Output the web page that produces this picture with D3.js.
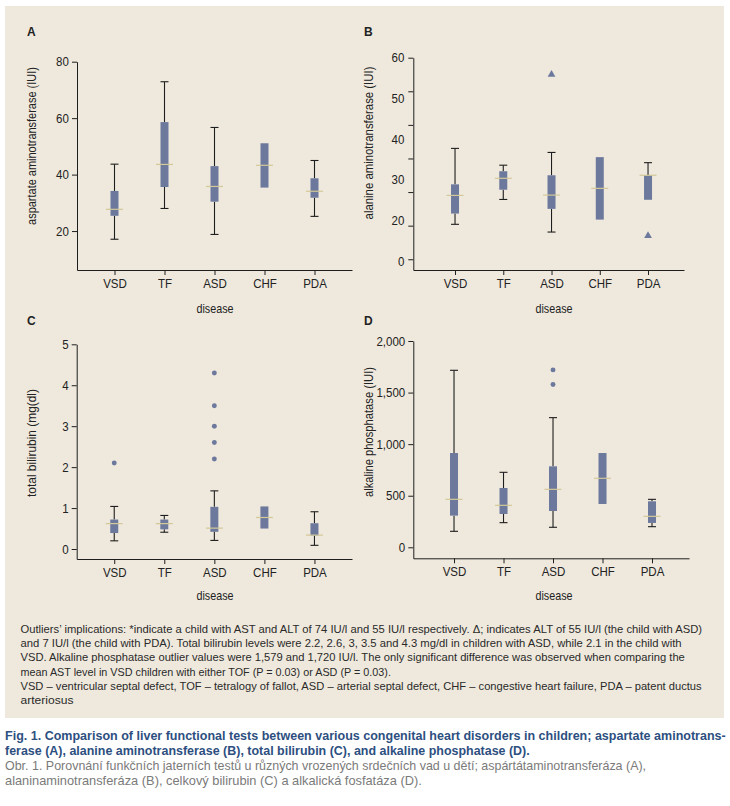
<!DOCTYPE html>
<html>
<head>
<meta charset="utf-8">
<script src="https://cdn.jsdelivr.net/npm/d3@7"></script>
<style>
  html, body { margin: 0; padding: 0; background: #ffffff; }
  svg { display: block; }
  text { font-family: "Liberation Sans", Arial, "Noto Sans", sans-serif; }
</style>
</head>
<body>
<div id="chart"></div>
<script>
// ---------------- DATA ----------------
const categories = ["VSD", "TF", "ASD", "CHF", "PDA"];

// box stats per category: [lower whisker, Q1, median, Q3, upper whisker] (null = no whisker)
const astStats = [
  [17.1, 25.4, 27.7, 34.2, 43.7],
  [28.0, 35.6, 43.6, 58.6, 72.9],
  [18.8, 30.4, 35.8, 43.0, 56.7],
  [null, 35.4, 43.3, 51.1, null],
  [25.2, 31.8, 34.1, 38.7, 45.0]
];
const astOutliers = [];

const altStats = [
  [10.4, 13.6, 19.0, 22.3, 33.0],
  [17.8, 20.7, 24.1, 26.2, 28.0],
  [8.1, 15.0, 19.1, 25.0, 31.8],
  [null, 11.8, 21.1, 30.4, null],
  [null, 17.7, 25.0, 25.0, 28.75]
];
const altOutliers = [["ASD", 55], ["PDA", 7]];

const bilStats = [
  [0.20, 0.39, 0.62, 0.72, 1.04],
  [0.41, 0.48, 0.62, 0.72, 0.82],
  [0.21, 0.42, 0.51, 1.03, 1.42],
  [null, 0.50, 0.77, 1.04, null],
  [0.09, 0.33, 0.34, 0.63, 0.91]
];
const bilOutliers = [["VSD", 2.1], ["ASD", 2.2], ["ASD", 2.6], ["ASD", 3.0], ["ASD", 3.5], ["ASD", 4.3]];

const alpStats = [
  [155, 307, 465, 914, 1716],
  [239, 323, 407, 575, 727],
  [194, 352, 562, 785, 1257],
  [null, 420, 669, 914, null],
  [200, 236, 300, 446, 465]
];
const alpOutliers = [["ASD", 1579], ["ASD", 1720]];

const astTicks = [20, 40, 60, 80];
const altTicks = [0, 10, 20, 30, 40, 50, 60];
const altTickLabels = ["60", "50", "40", "30", "20", "0"];
const bilTicks = [0, 1, 2, 3, 4, 5];
const alpTicks = [0, 500, 1000, 1500, 2000];

const notesLines = [
  "Outliers\u2019 implications: *indicate a child with AST and ALT of 74 IU/l and 55 IU/l respectively. \u0394; indicates ALT of 55 IU/l (the child with ASD)",
  "and 7 IU/l (the child with PDA). Total bilirubin levels were 2.2, 2.6, 3, 3.5 and 4.3 mg/dl in children with ASD, while 2.1 in the child with",
  "VSD. Alkaline phosphatase outlier values were 1,579 and 1,720 IU/l.  The only significant difference was observed when comparing the",
  "mean AST level in VSD children with either TOF (P = 0.03) or ASD (P = 0.03).",
  "VSD \u2013 ventricular septal defect, TOF \u2013 tetralogy of fallot, ASD \u2013 arterial septal defect, CHF \u2013 congestive heart failure, PDA \u2013 patent ductus",
  "arteriosus"
];
const captionBold = [
  "Fig. 1. Comparison of liver functional tests between various congenital heart disorders in children; aspartate aminotrans-",
  "ferase (A), alanine aminotransferase (B), total bilirubin (C), and alkaline phosphatase (D)."
];
const captionCz = [
  "Obr. 1. Porovn\u00e1n\u00ed funk\u010dn\u00edch jatern\u00edch test\u016f u r\u016fzn\u00fdch vrozen\u00fdch srde\u010dn\u00edch vad u d\u011bt\u00ed; asp\u00e1rt\u00e1taminotransfer\u00e1za (A),",
  "alaninaminotransfer\u00e1za (B), celkov\u00fd bilirubin (C) a alkalick\u00e1 fosfat\u00e1za (D)."
];

// ---------------- LAYOUT ----------------
const W = 730, H = 806;
const BOX_FILL = "#6c799d";
const MEDIAN = "#d2c898";
const AXIS = "#1e1e1e";
const INK = "#222";

const svg = d3.select("#chart").append("svg").attr("width", W).attr("height", H);
svg.append("rect").attr("x", 5).attr("y", 6).attr("width", 719).attr("height", 712).attr("fill", "#efe9dd");

// place a text and squeeze it horizontally to a target width (condensed look)
function fitText(parent, str, x, y, target, opts) {
  const t = parent.append("text").text(str)
    .attr("font-size", opts.size).attr("fill", opts.fill || INK)
    .attr("text-anchor", opts.anchor || "start");
  if (opts.bold) t.attr("font-weight", "bold");
  if (opts.dy) t.attr("dy", opts.dy);
  const nat = t.node().getComputedTextLength();
  const sx = target ? Math.min(1.05, target / nat) : (opts.sx || 1);
  const rot = opts.rotate ? ` rotate(${opts.rotate})` : "";
  t.attr("transform", `translate(${x},${y})${rot} scale(${sx},1)`);
  return t;
}

const panels = [
  { letter: "A", lx: 27, ly: 36, stats: astStats, outliers: astOutliers, marker: "circle",
    xr: [77, 352], pad: 0.75, align: 0.5, yDom: [6.2, 80], yr: [270, 61.7], ticks: astTicks,
    fmt: d3.format("d"), title: "aspartate aminotransferase (IUI)", tw: 158, tx: 32, ty: 146, dx: 215, dy: 313 },
  { letter: "B", lx: 364, ly: 36, stats: altStats, outliers: altOutliers, marker: "triangle",
    xr: [413.3, 684], pad: 0.805, align: 0.537, yDom: [-3.2, 60], yr: [270, 57.7], ticks: altTicks,
    customLabels: altTickLabels, title: "alanine aminotransferase (IUI)", tw: 153, tx: 369, ty: 143, dx: 554, dy: 313 },
  { letter: "C", lx: 27, ly: 325, stats: bilStats, outliers: bilOutliers, marker: "circle",
    xr: [76.7, 352], pad: 0.75, align: 0.5, yDom: [-0.244, 5], yr: [559, 344.3], ticks: bilTicks,
    fmt: d3.format("d"), title: "total bilirubin (mg(dl)", tw: 108, tx: 32, ty: 443, dx: 215, dy: 600 },
  { letter: "D", lx: 364, ly: 325, stats: alpStats, outliers: alpOutliers, marker: "circle",
    xr: [413.3, 689], pad: 0.785, align: 0.524, yDom: [-106.6, 2000], yr: [558.3, 341], ticks: alpTicks,
    fmt: d3.format(","), title: "alkaline phosphatase (IUI)", tw: 130, tx: 369, ty: 432, dx: 554, dy: 600 }
];

const TICK_SX = 0.9;

panels.forEach(p => {
  const g = svg.append("g");
  const x = d3.scalePoint().domain(categories).range(p.xr).padding(p.pad).align(p.align);
  const y = d3.scaleLinear().domain(p.yDom).range(p.yr);
  const x0 = p.xr[0], yBase = p.yr[0];

  fitText(g, p.letter, p.lx, p.ly, null, { size: 12, bold: true, sx: 1 });

  // x axis
  const xAxis = g.append("g").attr("transform", `translate(0,${yBase})`)
    .call(d3.axisBottom(x).tickSize(5).tickSizeOuter(0).tickPadding(4));
  xAxis.select(".domain").attr("stroke", AXIS);
  xAxis.selectAll(".tick line").attr("stroke", AXIS);
  xAxis.selectAll("text").attr("font-size", 12.8).attr("fill", INK)
    .style("font-family", "'Liberation Sans', Arial, sans-serif")
    .attr("transform", `scale(${TICK_SX},1)`);

  // y axis
  const yAxisGen = d3.axisLeft(y).tickValues(p.ticks).tickSize(5).tickSizeOuter(0).tickPadding(4);
  if (p.customLabels) yAxisGen.tickFormat(() => "");
  else yAxisGen.tickFormat(p.fmt);
  const yAxis = g.append("g").attr("transform", `translate(${x0},0)`).call(yAxisGen);
  yAxis.select(".domain").attr("stroke", AXIS);
  yAxis.selectAll(".tick line").attr("stroke", AXIS);
  yAxis.selectAll("text").attr("font-size", 12.8).attr("fill", INK)
    .style("font-family", "'Liberation Sans', Arial, sans-serif")
    .attr("transform", `scale(${TICK_SX},1)`);

  if (p.customLabels) {
    const ly = d3.scalePoint().domain(p.customLabels).range([y(d3.max(p.ticks)), y(d3.min(p.ticks)) + 2]);
    g.append("g").selectAll("text").data(p.customLabels).join("text")
      .attr("transform", d => `translate(${x0 - 9},${ly(d)}) scale(${TICK_SX},1)`)
      .attr("dy", "0.35em")
      .attr("text-anchor", "end").attr("font-size", 12.8).attr("fill", INK).text(d => d);
  }

  // axis titles
  fitText(g, p.title, p.tx, p.ty, p.tw, { size: 12.8, anchor: "middle", dy: "0.35em", rotate: -90 });
  fitText(g, "disease", p.dx, p.dy, 37, { size: 12.8, anchor: "middle" });

  // boxes
  const bw = 8, capW = 8, medW = 17;
  const rows = categories.map((c, i) => ({ c, s: p.stats[i] }));
  const bg = g.append("g");
  rows.forEach(r => {
    const cx = x(r.c);
    const [lo, q1, med, q3, hi] = r.s;
    if (hi !== null) {
      bg.append("line").attr("x1", cx).attr("x2", cx).attr("y1", y(q3)).attr("y2", y(hi)).attr("stroke", AXIS).attr("stroke-width", 1.1);
      bg.append("line").attr("x1", cx - capW / 2).attr("x2", cx + capW / 2).attr("y1", y(hi)).attr("y2", y(hi)).attr("stroke", AXIS).attr("stroke-width", 1.1);
    }
    if (lo !== null) {
      bg.append("line").attr("x1", cx).attr("x2", cx).attr("y1", y(q1)).attr("y2", y(lo)).attr("stroke", AXIS).attr("stroke-width", 1.1);
      bg.append("line").attr("x1", cx - capW / 2).attr("x2", cx + capW / 2).attr("y1", y(lo)).attr("y2", y(lo)).attr("stroke", AXIS).attr("stroke-width", 1.1);
    }
    bg.append("rect").attr("x", cx - bw / 2).attr("width", bw)
      .attr("y", y(q3)).attr("height", Math.max(0.5, y(q1) - y(q3))).attr("fill", BOX_FILL);
    bg.append("line").attr("x1", cx - medW / 2).attr("x2", cx + medW / 2)
      .attr("y1", y(med)).attr("y2", y(med)).attr("stroke", MEDIAN).attr("stroke-width", 1.2);
  });

  // outliers
  const sym = p.marker === "triangle" ? d3.symbolTriangle : d3.symbolCircle;
  const size = p.marker === "triangle" ? 26 : 19;
  g.append("g").selectAll("path").data(p.outliers).join("path")
    .attr("transform", d => `translate(${x(d[0])},${y(d[1])})`)
    .attr("d", d3.symbol().type(sym).size(size))
    .attr("fill", BOX_FILL);
});

// ---------------- TEXT BLOCKS ----------------
const notesWidths = [682, 662, 665, 371, 682, 53];
const notesBase = [633, 647.2, 661.4, 675.6, 689.8, 704];
const notesG = svg.append("g");
notesLines.forEach((s, i) => fitText(notesG, s, 20.5, notesBase[i], notesWidths[i], { size: 11.8, fill: "#2a2a2a" }));

const boldWidths = [721, 525];
const boldBase = [739.5, 754.5];
const boldG = svg.append("g");
captionBold.forEach((s, i) => fitText(boldG, s, 5, boldBase[i], boldWidths[i], { size: 12.8, bold: true, fill: "#2d4f7f" }));

const czWidths = [642, 417];
const czBase = [769.5, 784.5];
const czG = svg.append("g");
captionCz.forEach((s, i) => fitText(czG, s, 5, czBase[i], czWidths[i], { size: 12.6, fill: "#7a7a7a" }));
</script>
</body>
</html>
